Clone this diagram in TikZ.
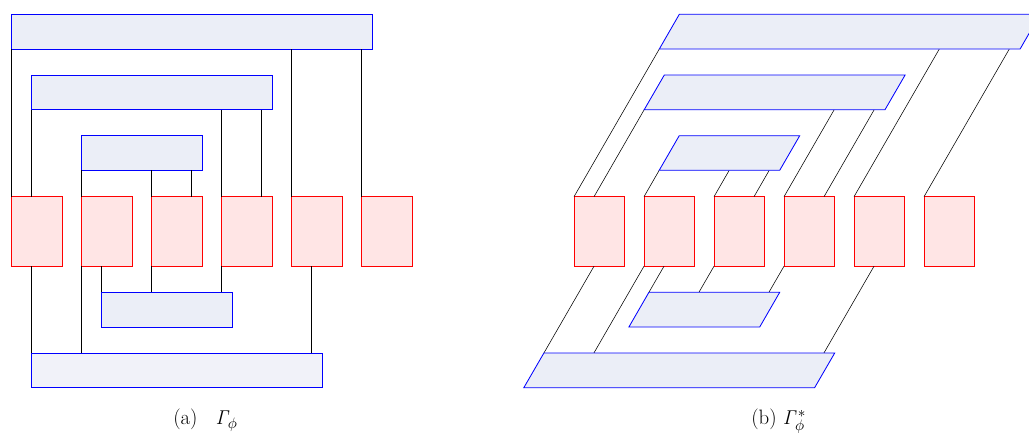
\documentclass[tikz,border=0pt]{standalone}
\usetikzlibrary{calc}
\definecolor{barfill}{RGB}{235,238,247}
\definecolor{barfilllight}{RGB}{241,242,249}
\definecolor{cellfill}{RGB}{255,229,229}
\begin{document}
\begin{tikzpicture}[x=0.72pt,y=-0.72pt,
  cell/.style={draw=red, fill=cellfill, line width=0.6pt, minimum width=36.36pt, minimum height=50.04pt, inner sep=0pt, outer sep=0pt, anchor=north west},
  bar/.style={draw=blue, fill=barfill, line width=0.6pt, minimum height=24.98pt, inner sep=0pt, outer sep=0pt, anchor=north west},
  pbar/.style={draw=blue, fill=barfill, line width=0.6pt},
  wire/.style={black, line width=0.4pt},
  captext/.style={anchor=base west, inner sep=0pt, font=\fontsize{15}{18}\selectfont}]
\useasboundingbox (0,0) rectangle (1029,432);

% ---------------- (a) ----------------
\foreach \i in {0,...,5} {
  \node[cell] (a\i) at ({11.5+70*\i},196.7) {};
}
\node[bar, minimum width=259.8pt] (aT1) at (11.5,14.3) {};
\node[bar, minimum width=173.4pt] (aT2) at (31.5,75) {};
\node[bar, minimum width=86.76pt] (aT3) at (81.5,135.7) {};
\node[bar, minimum width=94.18pt] (aB1) at (101.5,292.3) {};
\node[bar, fill=barfilllight, minimum width=209.4pt] (aB2) at (31.5,353) {};

\coordinate (a0n) at ($(a0.north west)+(20,0)$);
\coordinate (a3n) at ($(a3.north west)+(40,0)$);
\coordinate (a2n) at ($(a2.north west)+(40,0)$);
\coordinate (a0s) at ($(a0.south west)+(20,0)$);
\coordinate (a1s) at ($(a1.south west)+(20,0)$);
\coordinate (a4s) at ($(a4.south west)+(20,0)$);

\draw[wire] (a0.north west) -- (a0.north west |- aT1.south);
\draw[wire] (a4.north west) -- (a4.north west |- aT1.south);
\draw[wire] (a5.north west) -- (a5.north west |- aT1.south);
\draw[wire] (a0n) -- (a0n |- aT2.south);
\draw[wire] (a3.north west) -- (a3.north west |- aT2.south);
\draw[wire] (a3n) -- (a3n |- aT2.south);
\draw[wire] (a1.north west) -- (a1.north west |- aT3.south);
\draw[wire] (a2.north west) -- (a2.north west |- aT3.south);
\draw[wire] (a2n) -- (a2n |- aT3.south);
\draw[wire] (a1s) -- (a1s |- aB1.north);
\draw[wire] (a2.south west) -- (a2.south west |- aB1.north);
\draw[wire] (a3.south west) -- (a3.south west |- aB1.north);
\draw[wire] (a0s) -- (a0s |- aB2.north);
\draw[wire] (a1.south west) -- (a1.south west |- aB2.north);
\draw[wire] (a4s) -- (a4s |- aB2.north);

\node[captext] (capa) at (173,424.5) {(a)\hspace{13pt}$\mathit{\Gamma}_{\phi}$};

% ---------------- (b) ----------------
\coordinate (T1a) at (659.3,49);   \coordinate (T1b) at (1020.1,49);
\coordinate (T1c) at (1040.1,14.3); \coordinate (T1d) at (679.3,14.3);
\coordinate (T2a) at (644.2,109.7); \coordinate (T2b) at (885.0,109.7);
\coordinate (T2c) at (905.1,75);    \coordinate (T2d) at (664.3,75);
\coordinate (T3a) at (659.2,170.3); \coordinate (T3b) at (779.7,170.3);
\coordinate (T3c) at (799.7,135.7); \coordinate (T3d) at (679.2,135.7);
\coordinate (B1a) at (628.9,327);   \coordinate (B1b) at (759.7,327);
\coordinate (B1c) at (779.7,292.3); \coordinate (B1d) at (648.9,292.3);
\coordinate (B2a) at (523.8,387.7); \coordinate (B2b) at (814.6,387.7);
\coordinate (B2c) at (834.7,353);   \coordinate (B2d) at (543.9,353);

\coordinate (w1) at (939.3,49);  \coordinate (w2) at (1009.3,49);
\coordinate (w3) at (834.2,109.7); \coordinate (w4) at (874.2,109.7);
\coordinate (w5) at (729.2,170.3); \coordinate (w6) at (769.2,170.3);
\coordinate (w7) at (698.9,292.3); \coordinate (w8) at (768.9,292.3);
\coordinate (w9) at (593.9,353);  \coordinate (w10) at (823.9,353);

\foreach \i in {0,...,5} {
  \node[cell] (b\i) at ({574+70*\i},196.7) {};
}
\coordinate (b0n) at ($(b0.north west)+(20,0)$);
\coordinate (b3n) at ($(b3.north west)+(40,0)$);
\coordinate (b2n) at ($(b2.north west)+(40,0)$);
\coordinate (b0s) at ($(b0.south west)+(20,0)$);
\coordinate (b1s) at ($(b1.south west)+(20,0)$);
\coordinate (b4s) at ($(b4.south west)+(20,0)$);

\draw[wire] (b0.north west) -- (T1a);
\draw[wire] (b4.north west) -- (w1);
\draw[wire] (b5.north west) -- (w2);
\draw[wire] (b0n) -- (T2a);
\draw[wire] (b3.north west) -- (w3);
\draw[wire] (b3n) -- (w4);
\draw[wire] (b1.north west) -- (T3a);
\draw[wire] (b2.north west) -- (w5);
\draw[wire] (b2n) -- (w6);
\draw[wire] (b1s) -- (B1d);
\draw[wire] (b2.south west) -- (w7);
\draw[wire] (b3.south west) -- (w8);
\draw[wire] (b0s) -- (B2d);
\draw[wire] (b1.south west) -- (w9);
\draw[wire] (b4s) -- (w10);

\draw[pbar] (T1a) -- (T1b) -- (T1c) -- (T1d) -- cycle;
\draw[pbar] (T2a) -- (T2b) -- (T2c) -- (T2d) -- cycle;
\draw[pbar] (T3a) -- (T3b) -- (T3c) -- (T3d) -- cycle;
\draw[pbar] (B1a) -- (B1b) -- (B1c) -- (B1d) -- cycle;
\draw[pbar] (B2a) -- (B2b) -- (B2c) -- (B2d) -- cycle;

\node[captext] (capb) at (751,424.5) {(b) $\mathit{\Gamma}^{*}_{\phi}$};
\end{tikzpicture}
\end{document}
